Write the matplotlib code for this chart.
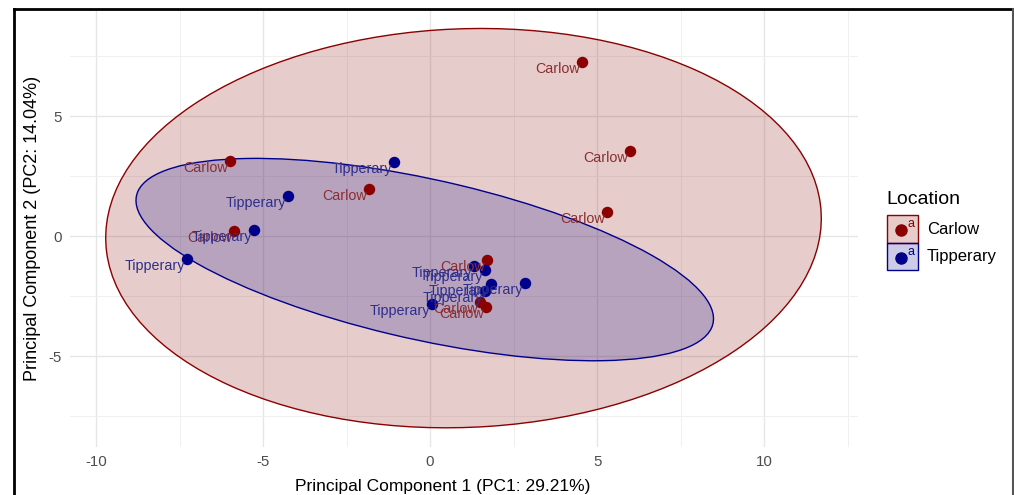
import matplotlib
matplotlib.use("Agg")
import matplotlib.pyplot as plt
from matplotlib.patches import Ellipse, Rectangle
from matplotlib.lines import Line2D

plt.rcParams['font.family'] = ['Liberation Sans', 'DejaVu Sans']
plt.rcParams['axes.unicode_minus'] = False

# PCA scores per sample
carlow_pc1 = [4.55, 5.99, 5.30, -5.99, -1.83, -5.87, 1.71, 1.50, 1.68]
carlow_pc2 = [7.25, 3.54, 1.00, 3.13, 1.96, 0.21, -1.00, -2.73, -2.96]
tipp_pc1 = [-1.08, -4.25, -5.27, -7.28, 1.32, 1.65, 1.83, 2.84, 0.06, 1.65]
tipp_pc2 = [3.08, 1.67, 0.25, -0.96, -1.24, -1.42, -2.00, -1.96, -2.83, -2.29]

groups = ["Carlow", "Tipperary"]
point_cols = ["#8B0000", "#00008B"]
text_cols = ["#8B2E2E", "#2E2E8B"]

# 95% confidence ellipses: centre x, centre y, full width, full height, angle (deg)
ell_carlow = (1.00, 0.33, 21.46, 16.59, 5.4)
ell_tipp = (-0.16, -0.98, 18.09, 6.54, -18.4)

fig = plt.figure(figsize=(10.14, 4.95), dpi=100)
ax = fig.add_axes([70/1014, 1-447/495, (858-70)/1014, (447-10)/495])

for (cx, cy, w, h, ang), col in zip([ell_carlow, ell_tipp], point_cols):
    ax.add_patch(Ellipse((cx, cy), w, h, angle=ang, facecolor=col, alpha=0.2,
                         edgecolor='none', zorder=2))
    ax.add_patch(Ellipse((cx, cy), w, h, angle=ang, facecolor='none',
                         edgecolor=col, linewidth=1.0, zorder=3))

series = [(carlow_pc1, carlow_pc2), (tipp_pc1, tipp_pc2)]
for (xs, ys), name, pc, tc in zip(series, groups, point_cols, text_cols):
    ax.scatter(xs, ys, s=68, color=pc, zorder=4, linewidths=0)
    for x, y in zip(xs, ys):
        ax.annotate(name, (x, y), xytext=(-1.5, 0), textcoords='offset points',
                    ha='right', va='top', fontsize=10.3, color=tc, zorder=5)

ax.set_xlim(-10.78, 12.81)
ax.set_ylim(-8.79, 9.42)
ax.set_xticks([-10, -5, 0, 5, 10])
ax.set_yticks([-5, 0, 5])
ax.set_xticks([-7.5, -2.5, 2.5, 7.5, 12.5], minor=True)
ax.set_yticks([-7.5, -2.5, 2.5, 7.5], minor=True)
ax.grid(which='major', color='#E6E6E6', linewidth=1.0, zorder=0)
ax.grid(which='minor', color='#F0F0F0', linewidth=0.7, zorder=0)
ax.set_axisbelow(True)
for s in ax.spines.values():
    s.set_visible(False)
ax.tick_params(which='both', length=0, labelsize=10.8, labelcolor='#4D4D4D')
ax.tick_params(axis='x', pad=6)
ax.tick_params(axis='y', pad=6)
ax.set_xlabel("Principal Component 1 (PC1: 29.21%)", fontsize=12.5)
ax.xaxis.set_label_coords(0.473, -0.073)
ax.set_ylabel("Principal Component 2 (PC2: 14.04%)", fontsize=13, labelpad=5)

# legend drawn by hand in figure pixels
def fx(px):
    return px / 1014

def fy(py):
    return 1 - py / 495

fig.text(fx(886), fy(200), "Location", fontsize=14, va='center', ha='left')
key_rows = [(215, 243), (243, 270)]
for (top, bot), name, col in zip(key_rows, groups, point_cols):
    fig.patches.append(Rectangle((fx(887), fy(bot)), fx(918) - fx(887), fy(top) - fy(bot),
                                 transform=fig.transFigure, facecolor=col, alpha=0.2,
                                 edgecolor='none'))
    fig.patches.append(Rectangle((fx(887), fy(bot)), fx(918) - fx(887), fy(top) - fy(bot),
                                 transform=fig.transFigure, facecolor='none',
                                 edgecolor=col, linewidth=1.0))
    mid = (top + bot) / 2
    fig.lines.append(Line2D([fx(901)], [fy(mid + 1)], marker='o', markersize=8,
                            color=col, transform=fig.transFigure))
    fig.text(fx(908), fy(mid - 5), "a", fontsize=9, color=col, ha='left', va='center')
    fig.text(fx(927), fy(mid), name, fontsize=12, va='center', ha='left')

# outer frame
fig.lines.append(Line2D([fx(14), fx(14)], [-0.01, fy(9)], color='black', linewidth=2,
                        transform=fig.transFigure))
fig.lines.append(Line2D([fx(14), fx(1013)], [fy(9), fy(9)], color='black', linewidth=2,
                        transform=fig.transFigure))
fig.lines.append(Line2D([fx(1013), fx(1013)], [-0.01, fy(9)], color='#555555', linewidth=1.5,
                        transform=fig.transFigure))

fig.savefig("out.png", dpi=100)
